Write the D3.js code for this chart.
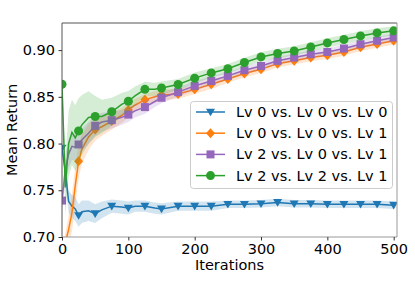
<!DOCTYPE html>
<html>
<head>
<meta charset="utf-8">
<script src="https://cdn.jsdelivr.net/npm/d3@7.9.0/dist/d3.min.js"></script>
<style>
  body { margin: 0; background: #fff; }
  svg { display: block; font-family: "DejaVu Sans", sans-serif; }
</style>
</head>
<body>
<svg id="chart" width="415" height="294"></svg>
<script>
// iterations sampled along each run
const iterations = [0, 5, 10, 15, 20, 25, 30, 40, 50, 60, 75, 90, 100, 110, 125, 140, 150, 175, 200, 225, 250, 275, 300, 325, 350, 375, 400, 425, 450, 475, 500];

const seriesNames = ["Lv 0 vs. Lv 0 vs. Lv 0", "Lv 0 vs. Lv 0 vs. Lv 1", "Lv 2 vs. Lv 0 vs. Lv 1", "Lv 2 vs. Lv 2 vs. Lv 1"];

const lv000 = [0.795, 0.770, 0.738, 0.733, 0.730, 0.723, 0.727, 0.728, 0.725, 0.729, 0.733, 0.732, 0.731, 0.733, 0.733, 0.731, 0.730, 0.733, 0.733, 0.733, 0.735, 0.735, 0.7355, 0.737, 0.7355, 0.7355, 0.735, 0.735, 0.735, 0.735, 0.734];
const lv001 = [0.685, 0.694, 0.708, 0.726, 0.755, 0.781, 0.794, 0.807, 0.815, 0.818, 0.824, 0.830, 0.836, 0.841, 0.847, 0.850, 0.852, 0.853, 0.858, 0.8635, 0.869, 0.875, 0.8795, 0.8855, 0.8885, 0.892, 0.8945, 0.898, 0.903, 0.9065, 0.910];
const lv201 = [0.739, 0.772, 0.789, 0.797, 0.796, 0.799, 0.804, 0.811, 0.819, 0.823, 0.825, 0.828, 0.831, 0.835, 0.839, 0.845, 0.849, 0.855, 0.8617, 0.867, 0.8724, 0.8785, 0.883, 0.8885, 0.892, 0.8956, 0.898, 0.9017, 0.9063, 0.910, 0.9135];
const lv221 = [0.8635, 0.753, 0.800, 0.812, 0.806, 0.8135, 0.820, 0.828, 0.829, 0.829, 0.834, 0.842, 0.8453, 0.851, 0.858, 0.858, 0.8595, 0.8632, 0.870, 0.8756, 0.880, 0.8867, 0.8927, 0.8964, 0.8991, 0.9034, 0.9077, 0.9113, 0.9152, 0.9184, 0.9206];

// spread (std) shown as shaded band
const std000 = [0.002, 0.012, 0.012, 0.012, 0.013, 0.012, 0.012, 0.011, 0.010, 0.009, 0.007, 0.007, 0.007, 0.006, 0.006, 0.006, 0.006, 0.005, 0.005, 0.005, 0.004, 0.004, 0.004, 0.004, 0.004, 0.004, 0.004, 0.004, 0.004, 0.004, 0.004];
const std001 = [0.005, 0.010, 0.015, 0.020, 0.020, 0.018, 0.016, 0.014, 0.012, 0.010, 0.009, 0.008, 0.008, 0.007, 0.006, 0.006, 0.006, 0.005, 0.005, 0.005, 0.004, 0.004, 0.004, 0.004, 0.004, 0.004, 0.004, 0.004, 0.004, 0.004, 0.004];
const std201 = [0.010, 0.015, 0.015, 0.015, 0.014, 0.012, 0.012, 0.012, 0.011, 0.010, 0.009, 0.008, 0.008, 0.007, 0.007, 0.006, 0.006, 0.005, 0.005, 0.005, 0.004, 0.004, 0.004, 0.004, 0.004, 0.004, 0.004, 0.004, 0.004, 0.004, 0.004];
const std221 = [0.005, 0.030, 0.035, 0.035, 0.035, 0.035, 0.032, 0.028, 0.022, 0.018, 0.015, 0.012, 0.011, 0.010, 0.008, 0.007, 0.007, 0.006, 0.006, 0.005, 0.005, 0.005, 0.005, 0.005, 0.005, 0.005, 0.005, 0.005, 0.005, 0.005, 0.005];

const xTicks = [0, 100, 200, 300, 400, 500];
const yTicks = [0.70, 0.75, 0.80, 0.85, 0.90];

const colors = ["#1f77b4", "#ff7f0e", "#9467bd", "#2ca02c"];
const symbols = ["triangleDown", "diamond", "square", "circle"];

const svg = d3.select("#chart");
const margin = { top: 23, right: 18, bottom: 57, left: 62 };
const W = 415, H = 294;
const x = d3.scaleLinear().domain([0, 505]).range([margin.left, W - margin.right]);
const y = d3.scaleLinear().domain([0.70, 0.929]).range([H - margin.bottom, margin.top]);

const series = [lv000, lv001, lv201, lv221].map((vals, i) => ({
  name: seriesNames[i],
  color: colors[i],
  symbol: symbols[i],
  points: iterations.map((it, j) => ({
    it: it,
    v: vals[j],
    s: [std000, std001, std201, std221][i][j]
  }))
}));

svg.append("defs").append("clipPath").attr("id", "plot-clip")
  .append("rect")
  .attr("x", margin.left).attr("y", margin.top)
  .attr("width", W - margin.left - margin.right)
  .attr("height", H - margin.top - margin.bottom);

const plot = svg.append("g").attr("clip-path", "url(#plot-clip)");

const area = d3.area()
  .x(d => x(d.it))
  .y0(d => y(d.v - d.s))
  .y1(d => y(d.v + d.s));

const line = d3.line()
  .x(d => x(d.it))
  .y(d => y(d.v));

function marker(g, sym, color, size) {
  const h = size / 2;
  if (sym === "circle") {
    g.append("circle").attr("r", h).attr("fill", color);
  } else if (sym === "square") {
    g.append("rect").attr("x", -h + 0.5).attr("y", -h + 0.5).attr("width", size - 1).attr("height", size - 1).attr("fill", color);
  } else if (sym === "diamond") {
    g.append("path").attr("d", `M0,${-h - 0.5}L${h},0L0,${h + 0.5}L${-h},0Z`).attr("fill", color);
  } else {
    g.append("path").attr("d", `M${-h},${-h * 0.75}L${h},${-h * 0.75}L0,${h * 0.95}Z`).attr("fill", color);
  }
}

series.forEach(s => {
  plot.append("path")
    .datum(s.points)
    .attr("fill", s.color)
    .attr("fill-opacity", 0.2)
    .attr("d", area);

  plot.append("path")
    .datum(s.points)
    .attr("fill", "none")
    .attr("stroke", s.color)
    .attr("stroke-width", 1.5)
    .attr("d", line);

  s.points.filter(d => d.it % 25 === 0).forEach(d => {
    const g = plot.append("g").attr("transform", `translate(${x(d.it)},${y(d.v)})`);
    marker(g, s.symbol, s.color, 9);
  });
});

// frame
const x0 = margin.left, x1 = W - margin.right, y0 = margin.top, y1 = H - margin.bottom;
svg.append("line").attr("x1", x0).attr("x2", x1).attr("y1", y0).attr("y2", y0).attr("stroke", "#555").attr("stroke-width", 1);
svg.append("line").attr("x1", x0).attr("x2", x0).attr("y1", y0).attr("y2", y1).attr("stroke", "#555").attr("stroke-width", 1);
svg.append("line").attr("x1", x1).attr("x2", x1).attr("y1", y0).attr("y2", y1).attr("stroke", "#999").attr("stroke-width", 1);
svg.append("line").attr("x1", x0).attr("x2", x1).attr("y1", y1).attr("y2", y1).attr("stroke", "#999").attr("stroke-width", 1);

// axes
const xAxis = svg.append("g")
  .attr("transform", `translate(0,${y1})`)
  .call(d3.axisBottom(x).tickValues(xTicks).tickSize(3.5).tickPadding(3).tickFormat(d3.format("d")));
const yAxis = svg.append("g")
  .attr("transform", `translate(${x0},0)`)
  .call(d3.axisLeft(y).tickValues(yTicks).tickSize(3.5).tickPadding(3.5).tickFormat(d3.format(".2f")));

[xAxis, yAxis].forEach(a => {
  a.select(".domain").remove();
  a.selectAll(".tick line").attr("stroke", "#333");
  a.selectAll(".tick text").attr("fill", "#000").attr("font-size", "14.5px").attr("font-family", "DejaVu Sans, sans-serif");
});

svg.append("text")
  .attr("x", (x0 + x1) / 2)
  .attr("y", 270)
  .attr("text-anchor", "middle")
  .attr("font-size", "14.5px")
  .text("Iterations");

svg.append("text")
  .attr("transform", `translate(17,${(y0 + y1) / 2}) rotate(-90)`)
  .attr("text-anchor", "middle")
  .attr("font-size", "14.5px")
  .text("Mean Return");

// legend
const legend = svg.append("g").attr("transform", "translate(190,101)");
legend.append("rect")
  .attr("x", 0.5).attr("y", 0.5)
  .attr("width", 202).attr("height", 87)
  .attr("rx", 3)
  .attr("fill", "#fff").attr("fill-opacity", 0.8)
  .attr("stroke", "#ccc");

series.forEach((s, i) => {
  const row = legend.append("g").attr("transform", `translate(0,${11 + i * 21.2})`);
  row.append("line")
    .attr("x1", 6).attr("x2", 35)
    .attr("stroke", s.color).attr("stroke-width", 1.5);
  marker(row.append("g").attr("transform", "translate(20.5,0)"), s.symbol, s.color, 9);
  row.append("text")
    .attr("x", 46).attr("y", 5)
    .attr("font-size", "14.5px")
    .text(s.name);
});
</script>
</body>
</html>
